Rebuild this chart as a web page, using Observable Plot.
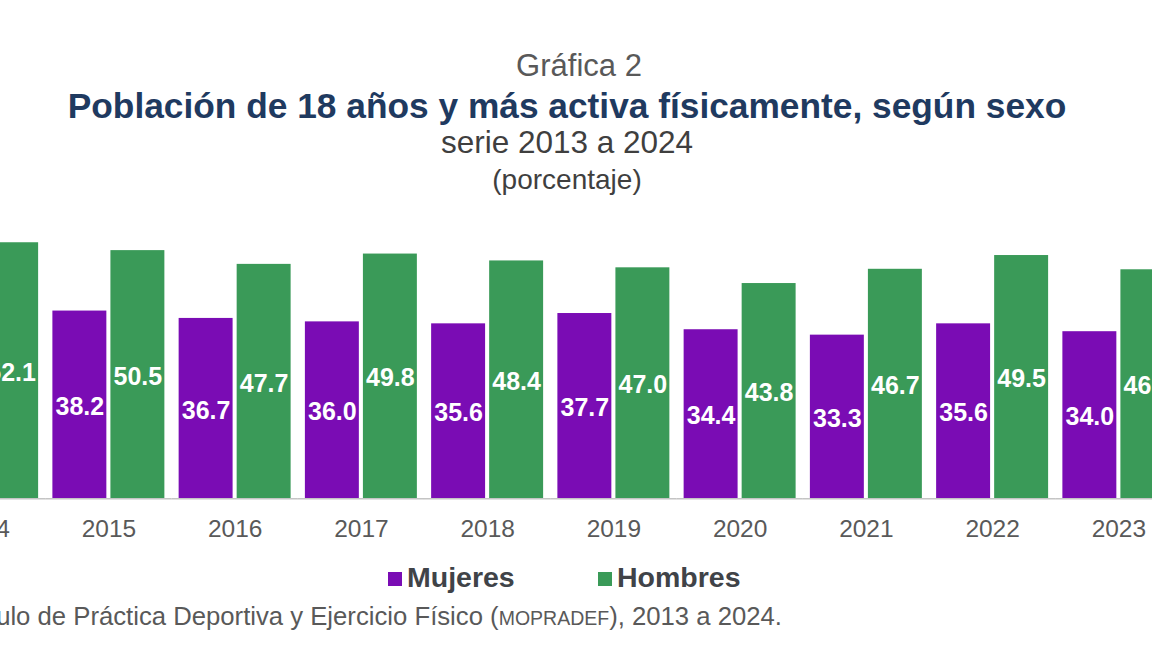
<!DOCTYPE html>
<html>
<head>
<meta charset="utf-8">
<script src="https://cdn.jsdelivr.net/npm/d3@7"></script>
<script src="https://cdn.jsdelivr.net/npm/@observablehq/plot@0.6"></script>
<style>
  html, body { margin: 0; padding: 0; background: #fff; }
  body { width: 1152px; height: 648px; overflow: hidden; position: relative; font-family: "Liberation Sans", Arial, sans-serif; }
  .t { position: absolute; left: 0; width: 1134px; text-align: center; white-space: nowrap; line-height: 1; }
  #chart { position: absolute; left: -81.4px; top: 207.7px; width: 1262.5px; height: 350.3px; }
  #chart svg { overflow: visible; max-width: none !important; width: 1262.5px !important; height: 350.3px !important; }
  .leg { position: absolute; top: 562px; font-weight: bold; font-size: 28.5px; color: #404348; white-space: nowrap; line-height: 30px; }
  .sw { display: inline-block; width: 14px; height: 14px; margin-right: 5px; vertical-align: 1px; }
  #src { position: absolute; right: 370px; top: 604px; font-size: 25.7px; color: #595959; white-space: nowrap; line-height: 1; }
  #src .sc { font-size: 19.5px; }
</style>
</head>
<body>
<div class="t" style="top:50px;left:12px;font-size:31px;color:#595959;">Gráfica 2</div>
<div class="t" style="top:88px;font-size:35.3px;font-weight:bold;color:#1f3a60;">Población de 18 años y más activa físicamente, según sexo</div>
<div class="t" style="top:127px;font-size:31.5px;color:#3f3f3f;">serie 2013 a 2024</div>
<div class="t" style="top:166px;font-size:28px;color:#3f3f3f;">(porcentaje)</div>
<div id="chart"></div>
<div class="leg" style="left:388px;"><span class="sw" style="background:#7a0cb4"></span>Mujeres</div>
<div class="leg" style="left:598px;"><span class="sw" style="background:#3a9a58"></span>Hombres</div>
<div id="src">Fuente: INEGI. Módulo de Práctica Deportiva y Ejercicio Físico (<span class="sc">MOPRADEF</span>), 2013 a 2024.</div>
<script>
const years = ["2014", "2015", "2016", "2017", "2018", "2019", "2020", "2021", "2022", "2023"];
const mujeres = [null, 38.2, 36.7, 36.0, 35.6, 37.7, 34.4, 33.3, 35.6, 34.0];
const hombres = [52.1, 50.5, 47.7, 49.8, 48.4, 47.0, 43.8, 46.7, 49.5, 46.6];
const sexes = ["Mujeres", "Hombres"];
const colors = ["#7a0cb4", "#3a9a58"];

const data = [];
years.forEach((y, i) => {
  if (mujeres[i] != null) data.push({year: y, sex: "Mujeres", value: mujeres[i]});
  if (hombres[i] != null) data.push({year: y, sex: "Hombres", value: hombres[i]});
});

const chart = Plot.plot({
  width: 1262.5,
  height: 350.3,
  marginTop: 20,
  marginBottom: 60,
  marginLeft: 0,
  marginRight: 0,
  style: {fontFamily: "'Liberation Sans', Arial, sans-serif", fontSize: "24.5px", color: "#595959", background: "transparent", maxWidth: "none"},
  fx: {domain: years, paddingInner: 0.113, paddingOuter: 0.0565, round: false, axis: null, label: null},
  x: {domain: sexes, paddingInner: 0.07, paddingOuter: 0, round: false, axis: null},
  y: {domain: [0, 55], axis: null},
  color: {domain: sexes, range: colors},
  marks: [
    Plot.barY(data, {fx: "year", x: "sex", y: "value", fill: "sex"}),
    Plot.ruleY([0], {stroke: "#c4c4c4", strokeWidth: 1.5, insetLeft: -7.2, insetRight: -7.2}),
    Plot.text(data, {fx: "year", x: "sex", y: d => d.value / 2, text: d => d.value.toFixed(1), fill: "#fff", fontWeight: "bold", fontSize: 25, dy: 2}),
    Plot.axisFx({anchor: "bottom", tickSize: 0, tickPadding: 21, fontSize: 24.5, fill: "#595959", label: null})
  ]
});
document.getElementById("chart").appendChild(chart);
</script>
</body>
</html>
